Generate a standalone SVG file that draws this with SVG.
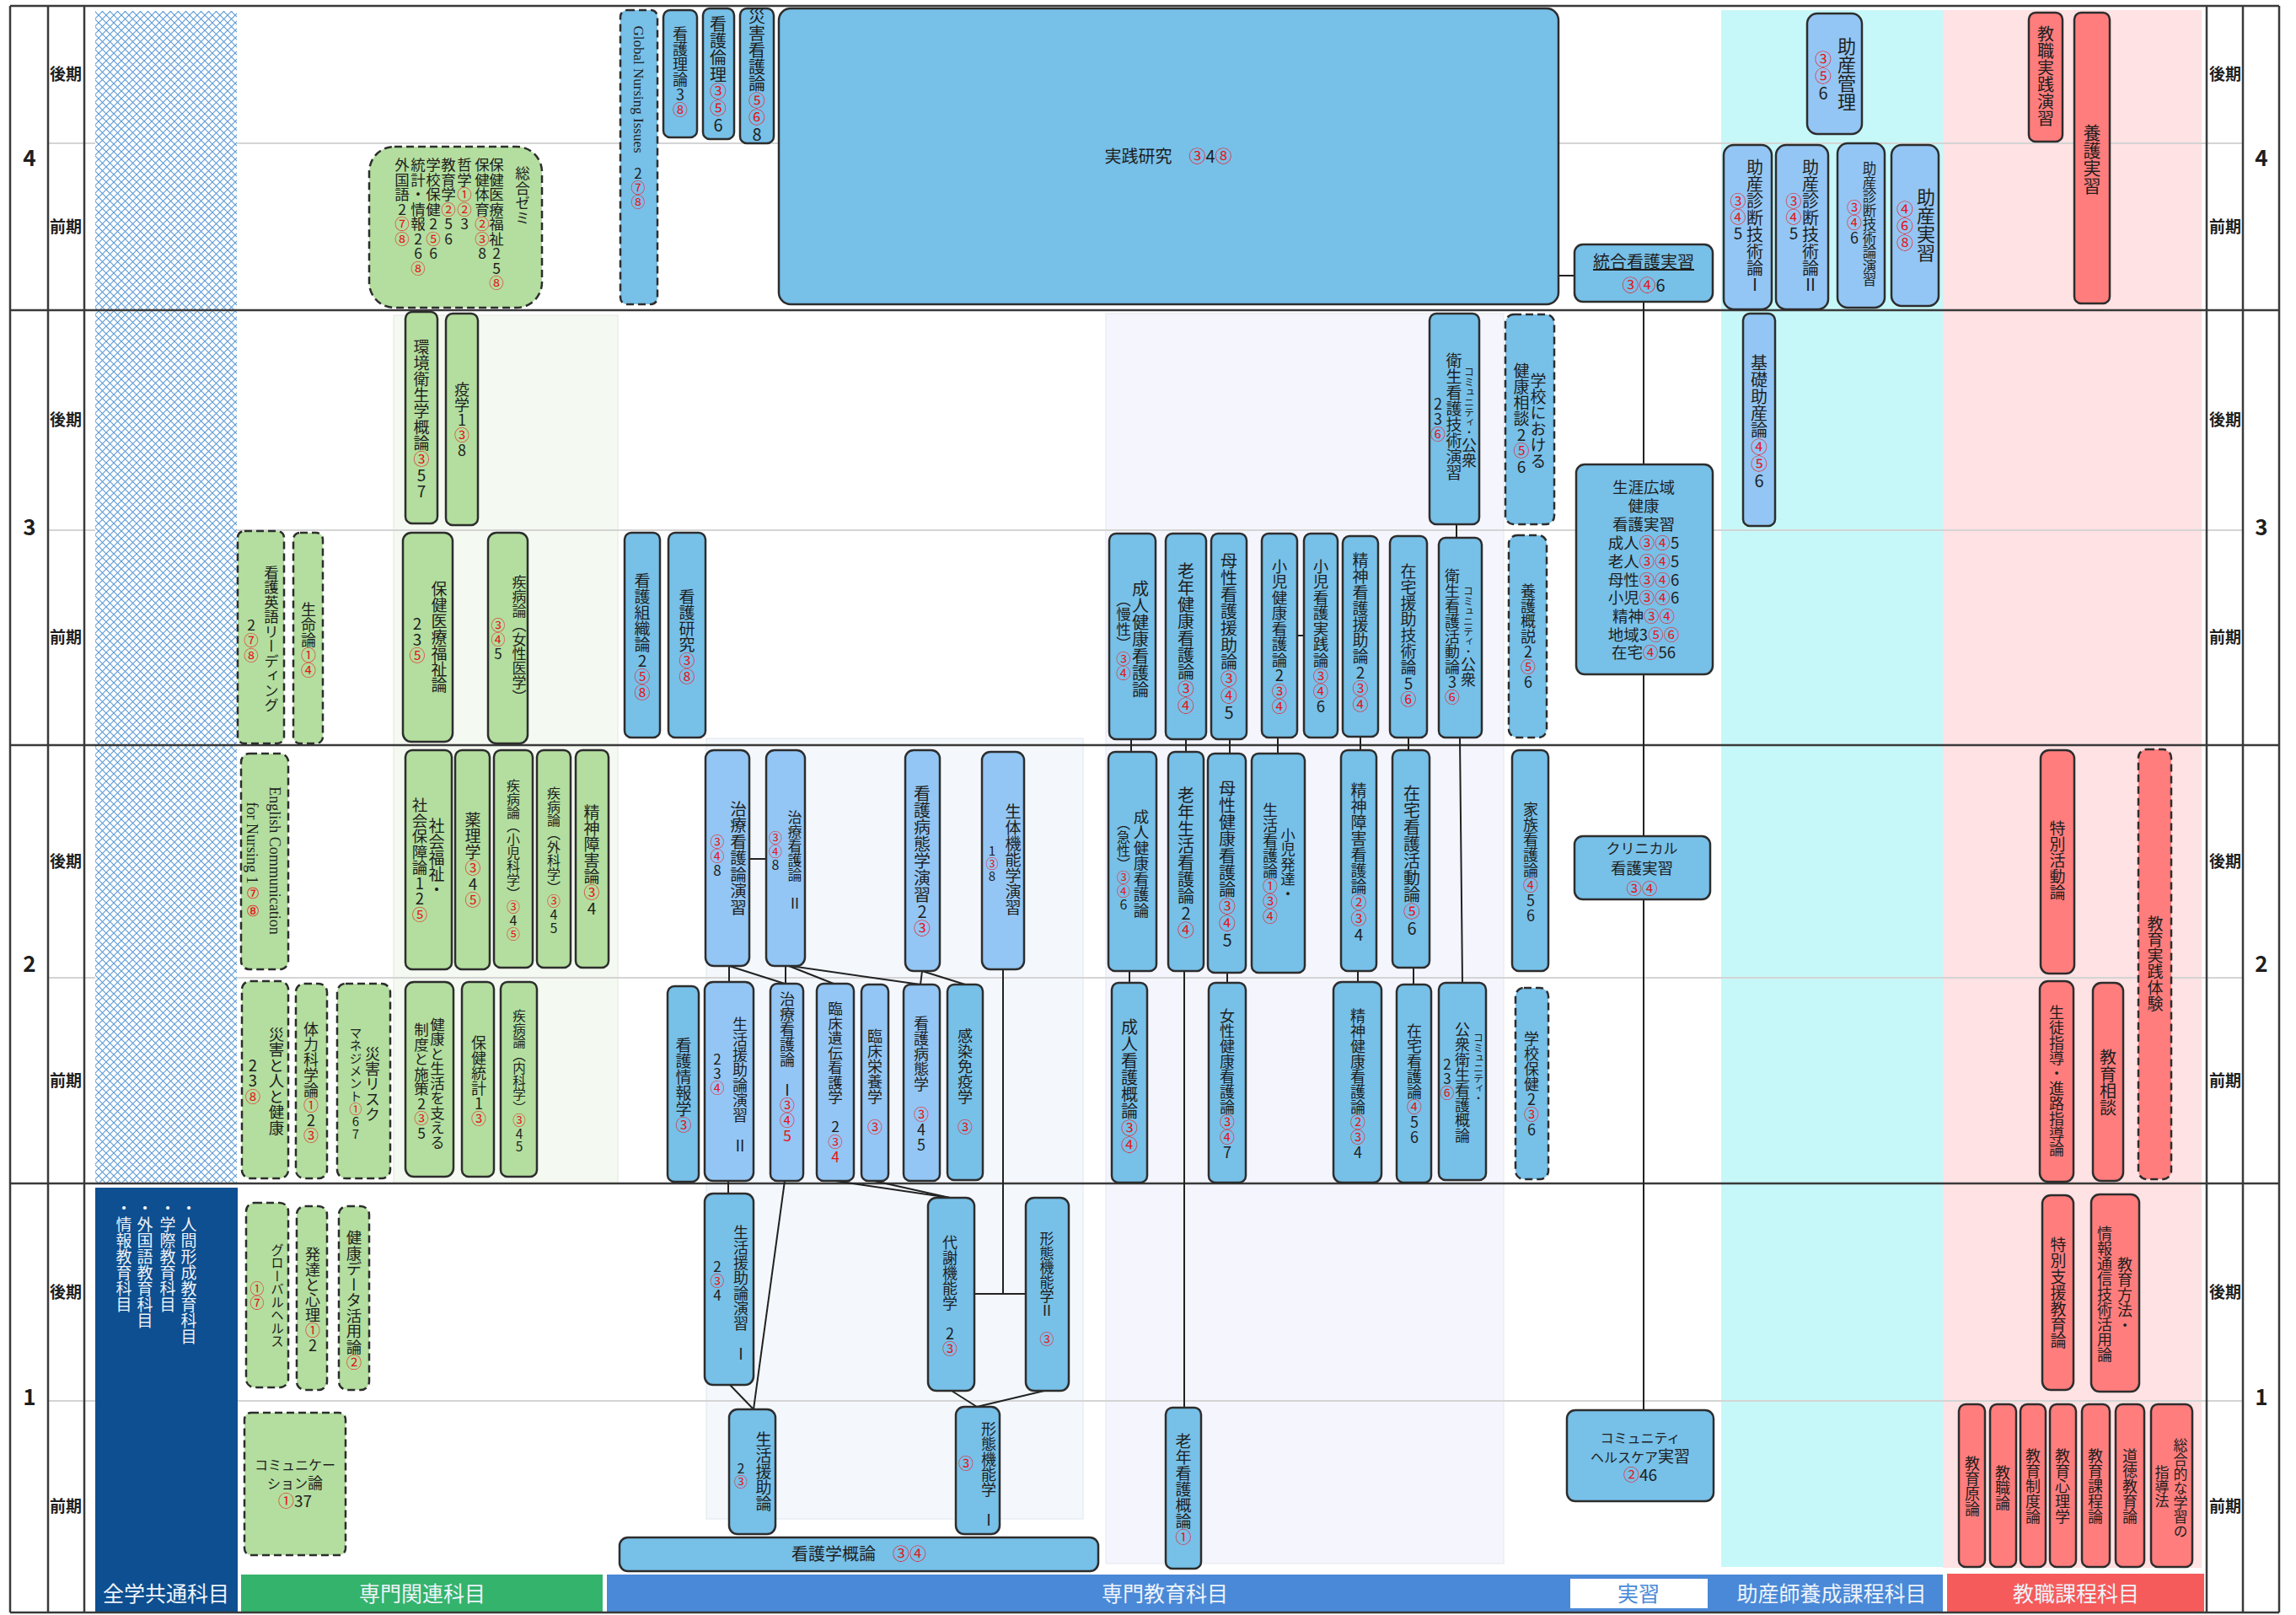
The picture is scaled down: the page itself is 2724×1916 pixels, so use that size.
<svg xmlns="http://www.w3.org/2000/svg" width="2724" height="1916" viewBox="0 0 2724 1916">
<defs>
<pattern id="hx" width="9" height="9" patternUnits="userSpaceOnUse">
<rect width="9" height="9" fill="#fff"/>
<path d="M0,0L9,9M9,0L0,9" stroke="#5c9ad6" stroke-width="1.1"/>
</pattern>
<style>
.n{stroke:#2d2d2d;stroke-width:2.5}
.g{fill:#b3de9f}
.b{fill:#77c0e8}
.l{fill:#93c6f4}
.p{fill:#ff7d7d}
.d{stroke-dasharray:9 5}
text{font-family:"Noto Sans CJK JP","Noto Sans CJK SC",sans-serif;fill:#1e1e1e}
.v{writing-mode:vertical-rl;text-orientation:upright;text-anchor:middle;font-size:19px}
.s{writing-mode:vertical-rl;text-orientation:mixed;text-anchor:middle;font-family:"Liberation Serif",serif;font-size:18px}
.h{text-anchor:middle;font-size:20px}
.hl{text-anchor:middle;font-size:18.5px}
.r{fill:#e5151b}
.lab{font-weight:700;font-size:19px;text-anchor:middle}
.yr{font-weight:700;font-size:26px;text-anchor:middle}
.bar{fill:#eef3fa;font-size:25px;text-anchor:middle}
.w{fill:#eef2f8}
.c line{stroke:#222;stroke-width:2}
</style>
</defs>
<rect width="2724" height="1916" fill="#fff"/>
<g id="background">
<rect x="467" y="374" width="266" height="1030" fill="#f4f9f1" stroke="#e3e8e0"/>
<rect x="1312" y="372" width="472" height="1483" fill="#f5f5fe" stroke="#e6e6f0"/>
<rect x="838" y="876" width="447" height="926" fill="#f4f8fd" stroke="#e0e6ee"/>
<rect x="2042" y="12" width="263" height="1847" fill="#c7f8f9"/>
<rect x="2305" y="12" width="307" height="1848" fill="#ffe2e3"/>
<g stroke="#d4d4d4" stroke-width="2">
<line x1="57" y1="170" x2="2661" y2="170"/>
<line x1="57" y1="629" x2="2661" y2="629"/>
<line x1="57" y1="1160" x2="2661" y2="1160"/>
<line x1="57" y1="1662" x2="2661" y2="1662"/>
</g>
<rect x="113" y="13" width="168" height="1391" fill="url(#hx)"/>
<rect x="113" y="1409" width="169" height="504" fill="#0d4f90"/>
<text class="v w" style="text-anchor:start" x="224" y="1424">・人間形成教育科目</text>
<text class="v w" style="text-anchor:start" x="199" y="1424">・学際教育科目</text>
<text class="v w" style="text-anchor:start" x="172" y="1424">・外国語教育科目</text>
<text class="v w" style="text-anchor:start" x="147" y="1424">・情報教育科目</text>
<rect x="286" y="1868" width="429" height="45" fill="#34b36c"/>
<rect x="720" y="1868" width="1585" height="45" fill="#4a89d7"/>
<rect x="1863" y="1873" width="163" height="35" fill="#fff"/>
<rect x="2310" y="1867" width="305" height="46" fill="#f65b5b"/>
<text class="bar" x="197" y="1900">全学共通科目</text>
<text class="bar" x="501" y="1900">専門関連科目</text>
<text class="bar" x="1382" y="1900">専門教育科目</text>
<text class="bar" x="1944" y="1900" style="fill:#4a89d7">実習</text>
<text class="bar" x="2173" y="1900">助産師養成課程科目</text>
<text class="bar" x="2463" y="1900">教職課程科目</text>
<g stroke="#3a3a3a" stroke-width="2.5">
<line x1="12" y1="7" x2="2704" y2="7"/>
<line x1="12" y1="368" x2="2704" y2="368"/>
<line x1="12" y1="884" x2="2704" y2="884"/>
<line x1="12" y1="1404" x2="2704" y2="1404"/>
<line x1="12" y1="1913" x2="2704" y2="1913"/>
<line x1="12" y1="7" x2="12" y2="1913"/>
<line x1="57" y1="7" x2="57" y2="1913"/>
<line x1="100" y1="7" x2="100" y2="1913"/>
<line x1="2618" y1="7" x2="2618" y2="1913"/>
<line x1="2661" y1="7" x2="2661" y2="1913"/>
<line x1="2704" y1="7" x2="2704" y2="1913"/>
</g>
<text class="yr" x="35" y="197">4</text>
<text class="yr" x="35" y="635">3</text>
<text class="yr" x="35" y="1153">2</text>
<text class="yr" x="35" y="1667">1</text>
<text class="yr" x="2683" y="197">4</text>
<text class="yr" x="2683" y="635">3</text>
<text class="yr" x="2683" y="1153">2</text>
<text class="yr" x="2683" y="1667">1</text>
<text class="lab" x="78" y="95">後期</text>
<text class="lab" x="78" y="276">前期</text>
<text class="lab" x="78" y="505">後期</text>
<text class="lab" x="78" y="763">前期</text>
<text class="lab" x="78" y="1029">後期</text>
<text class="lab" x="78" y="1289">前期</text>
<text class="lab" x="78" y="1540">後期</text>
<text class="lab" x="78" y="1794">前期</text>
<text class="lab" x="2640" y="95">後期</text>
<text class="lab" x="2640" y="276">前期</text>
<text class="lab" x="2640" y="505">後期</text>
<text class="lab" x="2640" y="763">前期</text>
<text class="lab" x="2640" y="1029">後期</text>
<text class="lab" x="2640" y="1289">前期</text>
<text class="lab" x="2640" y="1540">後期</text>
<text class="lab" x="2640" y="1794">前期</text>
</g>
<g id="connectors" class="c">
<line x1="1849" y1="327" x2="1868" y2="327"/>
<line x1="1950" y1="358" x2="1950" y2="1673"/>
<line x1="1539" y1="754" x2="1547" y2="754"/>
<line x1="1728" y1="622" x2="1728" y2="638"/>
<line x1="1342" y1="877" x2="1342" y2="892"/>
<line x1="1407" y1="877" x2="1407" y2="892"/>
<line x1="1459" y1="877" x2="1459" y2="894"/>
<line x1="1516" y1="875" x2="1516" y2="894"/>
<line x1="1614" y1="874" x2="1614" y2="890"/>
<line x1="1671" y1="875" x2="1671" y2="890"/>
<line x1="1732" y1="875" x2="1735" y2="1166"/>
<line x1="1340" y1="1152" x2="1340" y2="1166"/>
<line x1="1405" y1="1152" x2="1405" y2="1670"/>
<line x1="1456" y1="1154" x2="1456" y2="1166"/>
<line x1="1611" y1="1152" x2="1611" y2="1165"/>
<line x1="1677" y1="1148" x2="1677" y2="1168"/>
<line x1="889" y1="1019" x2="909" y2="1019"/>
<line x1="865" y1="1146" x2="865" y2="1165"/>
<line x1="865" y1="1146" x2="931" y2="1167"/>
<line x1="932" y1="1146" x2="932" y2="1167"/>
<line x1="936" y1="1146" x2="989" y2="1167"/>
<line x1="938" y1="1146" x2="1092" y2="1168"/>
<line x1="1094" y1="1152" x2="1092" y2="1168"/>
<line x1="1094" y1="1152" x2="1145" y2="1168"/>
<line x1="1190" y1="1150" x2="1190" y2="1535"/>
<line x1="1156" y1="1535" x2="1217" y2="1535"/>
<line x1="864" y1="1401" x2="864" y2="1416"/>
<line x1="931" y1="1401" x2="894" y2="1672"/>
<line x1="866" y1="1643" x2="894" y2="1672"/>
<line x1="991" y1="1401" x2="1127" y2="1421"/>
<line x1="1037" y1="1401" x2="1127" y2="1421"/>
<line x1="1129" y1="1650" x2="1159" y2="1669"/>
<line x1="1239" y1="1650" x2="1159" y2="1669"/>
</g>
<g id="nodes">
<g id="n01"><rect class="n g d" x="438" y="174" width="205" height="191" rx="30"/>
<text class="v" style="font-size:17.5px;text-anchor:start" x="620" y="197">総合ゼミ</text>
<text class="v" style="font-size:17.5px;text-anchor:start" x="589" y="187">保健医療福祉25<tspan class="r">⑧</tspan></text>
<text class="v" style="font-size:17.5px;text-anchor:start" x="572" y="187">保健体育<tspan class="r">②③</tspan>8</text>
<text class="v" style="font-size:17.5px;text-anchor:start" x="551" y="187">哲学<tspan class="r">①②</tspan>3</text>
<text class="v" style="font-size:17.5px;text-anchor:start" x="532" y="187">教育学<tspan class="r">②</tspan>56</text>
<text class="v" style="font-size:17.5px;text-anchor:start" x="514" y="187">学校保健2<tspan class="r">⑤</tspan>6</text>
<text class="v" style="font-size:17.5px;text-anchor:start" x="496" y="187">統計・情報26<tspan class="r">⑧</tspan></text>
<text class="v" style="font-size:17.5px;text-anchor:start" x="477" y="187">外国語2<tspan class="r">⑦⑧</tspan></text></g>
<g id="n02"><rect class="n b d" x="736" y="12" width="44" height="349" rx="8"/>
<text class="s" x="757" y="106" style="font-size:17px">Global Nursing Issues</text>
<text class="v" x="757" y="223" style="font-size:17px">2<tspan class="r">⑦⑧</tspan></text></g>
<g id="n03"><rect class="n b" x="787" y="12" width="40" height="151" rx="8"/><text class="v" x="807" y="85" style="font-size:18px">看護理論3<tspan class="r">⑧</tspan></text></g>
<g id="n04"><rect class="n b" x="834" y="10" width="37" height="155" rx="8"/><text class="v" x="852" y="88" style="font-size:20px">看護倫理<tspan class="r">③⑤</tspan>6</text></g>
<g id="n05"><rect class="n b" x="878" y="10" width="40" height="160" rx="8"/><text class="v" x="898" y="89" style="font-size:20px">災害看護論<tspan class="r">⑤⑥</tspan>8</text></g>
<g id="n06"><rect class="n b" x="924" y="10" width="925" height="351" rx="14"/><text class="h" x="1386" y="193">実践研究　<tspan class="r">③</tspan>4<tspan class="r">⑧</tspan></text></g>
<g id="n07"><rect class="n b" x="1868" y="290" width="164" height="68" rx="10"/><text class="h" x="1950" y="318" text-decoration="underline">統合看護実習</text><text class="h" x="1950" y="346"><tspan class="r">③④</tspan>6</text></g>
<g id="n08"><rect class="n l" x="2144" y="16" width="65" height="143" rx="12"/><text class="v" x="2191" y="88" style="font-size:22px">助産管理</text><text class="v" x="2163" y="90" style="font-size:20px"><tspan class="r">③⑤</tspan>6</text></g>
<g id="n09"><rect class="n l" x="2045" y="172" width="57" height="195" rx="12"/><text class="v" x="2082" y="268" style="font-size:20px">助産診断技術論Ⅰ</text><text class="v" x="2062" y="258"><tspan class="r">③④</tspan>5</text></g>
<g id="n10"><rect class="n l" x="2107" y="172" width="62" height="195" rx="12"/><text class="v" x="2148" y="268" style="font-size:20px">助産診断技術論Ⅱ</text><text class="v" x="2128" y="258"><tspan class="r">③④</tspan>5</text></g>
<g id="n11"><rect class="n l" x="2180" y="170" width="56" height="195" rx="12"/><text class="v" x="2218" y="266" style="font-size:16.5px">助産診断技術論演習</text><text class="v" x="2200" y="264" style="font-size:18px"><tspan class="r">③④</tspan>6</text></g>
<g id="n12"><rect class="n l" x="2244" y="172" width="56" height="191" rx="12"/><text class="v" x="2285" y="267" style="font-size:22px">助産実習</text><text class="v" x="2260" y="268" style="font-size:20px"><tspan class="r">④⑥⑧</tspan></text></g>
<g id="n13"><rect class="n p" x="2407" y="15" width="40" height="153" rx="8"/><text class="v" x="2427" y="90" style="font-size:20px">教職実践演習</text></g>
<g id="n14"><rect class="n p" x="2461" y="15" width="42" height="345" rx="8"/><text class="v" x="2482" y="189" style="font-size:21px">養護実習</text></g>
<g id="n15"><rect class="n g" x="481" y="370" width="38" height="251" rx="8"/><text class="v" x="500" y="497">環境衛生学概論<tspan class="r">③</tspan>57</text></g>
<g id="n16"><rect class="n g" x="529" y="372" width="38" height="251" rx="8"/><text class="v" x="548" y="498" style="font-size:18px">疫学1<tspan class="r">③</tspan>8</text></g>
<g id="n17"><rect class="n g d" x="282" y="630" width="55" height="252" rx="8"/><text class="v" x="322" y="758" style="font-size:17.5px">看護英語リーディング</text><text class="v" x="298" y="759" style="font-size:17.5px">2<tspan class="r">⑦⑧</tspan></text></g>
<g id="n18"><rect class="n g d" x="348" y="632" width="35" height="250" rx="8"/><text class="v" x="366" y="759" style="font-size:18px">生命論<tspan class="r">①④</tspan></text></g>
<g id="n19"><rect class="n g" x="478" y="632" width="59" height="248" rx="10"/><text class="v" x="521" y="756">保健医療福祉論</text><text class="v" x="495" y="759">23<tspan class="r">⑤</tspan></text></g>
<g id="n20"><rect class="n g" x="579" y="632" width="47" height="250" rx="10"/><text class="v" x="616" y="759" style="font-size:17px">疾病論（女性医学）</text><text class="v" x="591" y="759" style="font-size:17px"><tspan class="r">③④</tspan>5</text></g>
<g id="n21"><rect class="n b" x="741" y="632" width="42" height="243" rx="8"/><text class="v" x="762" y="755">看護組織論2<tspan class="r">⑤⑧</tspan></text></g>
<g id="n22"><rect class="n b" x="793" y="632" width="44" height="243" rx="8"/><text class="v" x="815" y="755">看護研究<tspan class="r">③⑧</tspan></text></g>
<g id="n23"><rect class="n b" x="1696" y="372" width="59" height="250" rx="8"/><text class="v" x="1743" y="495" style="font-size:18px"><tspan style="font-size:12px">コミュニティ・</tspan>公衆</text><text class="v" x="1725" y="494">衛生看護技術演習</text><text class="v" x="1706" y="497" style="font-size:18px">23<tspan class="r">⑥</tspan></text></g>
<g id="n24"><rect class="n b d" x="1786" y="373" width="58" height="249" rx="10"/><text class="v" x="1825" y="499">学校における</text><text class="v" x="1805" y="497">健康相談2<tspan class="r">⑤</tspan>6</text></g>
<g id="n25"><rect class="n b" x="1316" y="633" width="55" height="244" rx="8"/><text class="v" x="1353" y="758" style="font-size:20px">成人健康看護論</text><text class="v" x="1333" y="755" style="font-size:17.5px">（慢性）<tspan class="r">③④</tspan></text></g>
<g id="n26"><rect class="n b" x="1383" y="633" width="48" height="244" rx="8"/><text class="v" x="1407" y="757" style="font-size:20px">老年健康看護論<tspan class="r">③④</tspan></text></g>
<g id="n27"><rect class="n b" x="1437" y="633" width="42" height="244" rx="8"/><text class="v" x="1458" y="755" style="font-size:20px">母性看護援助論<tspan class="r">③④</tspan>5</text></g>
<g id="n28"><rect class="n b" x="1497" y="633" width="42" height="242" rx="8"/><text class="v" x="1518" y="755" style="font-size:18.5px">小児健康看護論2<tspan class="r">③④</tspan></text></g>
<g id="n29"><rect class="n b" x="1547" y="633" width="40" height="242" rx="8"/><text class="v" x="1567" y="755" style="font-size:18.5px">小児看護実践論<tspan class="r">③④</tspan>6</text></g>
<g id="n30"><rect class="n b" x="1593" y="636" width="42" height="238" rx="8"/><text class="v" x="1614" y="750">精神看護援助論2<tspan class="r">③④</tspan></text></g>
<g id="n31"><rect class="n b" x="1649" y="636" width="44" height="239" rx="8"/><text class="v" x="1671" y="754">在宅援助技術論5<tspan class="r">⑥</tspan></text></g>
<g id="n32"><rect class="n b" x="1707" y="638" width="51" height="237" rx="8"/><text class="v" x="1742" y="755" style="font-size:18px"><tspan style="font-size:12px">コミュニティ・</tspan>公衆</text><text class="v" x="1723" y="755" style="font-size:18px">衛生看護活動論3<tspan class="r">⑥</tspan></text></g>
<g id="n33"><rect class="n b d" x="1790" y="635" width="45" height="240" rx="10"/><text class="v" x="1813" y="755" style="font-size:18px">養護概説2<tspan class="r">⑤</tspan>6</text></g>
<g id="n34"><rect class="n b" x="1870" y="551" width="162" height="249" rx="10"/>
<text class="hl" x="1950" y="585">生涯広域</text><text class="hl" x="1950" y="607">健康</text><text class="hl" x="1950" y="629">看護実習</text>
<text class="hl" x="1950" y="651">成人<tspan class="r">③④</tspan>5</text><text class="hl" x="1950" y="673">老人<tspan class="r">③④</tspan>5</text>
<text class="hl" x="1950" y="695">母性<tspan class="r">③④</tspan>6</text><text class="hl" x="1950" y="716">小児<tspan class="r">③④</tspan>6</text>
<text class="hl" x="1950" y="738">精神<tspan class="r">③④</tspan></text><text class="hl" x="1950" y="760">地域3<tspan class="r">⑤⑥</tspan></text>
<text class="hl" x="1950" y="781">在宅<tspan class="r">④</tspan>56</text></g>
<g id="n35"><rect class="n l" x="2068" y="372" width="38" height="252" rx="8"/><text class="v" x="2087" y="500" style="font-size:20px">基礎助産論<tspan class="r">④⑤</tspan>6</text></g>
<g id="n36"><rect class="n g d" x="286" y="894" width="56" height="256" rx="10"/><text class="s" x="326" y="1021">English Communication</text><text class="s" x="299" y="1021">for Nursing 1<tspan class="r">⑦⑧</tspan></text></g>
<g id="n37"><rect class="n g" x="481" y="890" width="55" height="260" rx="8"/><text class="v" x="518" y="1018">社会福祉・</text><text class="v" x="498" y="1020" style="font-size:18.5px">社会保障論12<tspan class="r">⑤</tspan></text></g>
<g id="n38"><rect class="n g" x="540" y="890" width="41" height="260" rx="8"/><text class="v" x="561" y="1020">薬理学<tspan class="r">③</tspan>4<tspan class="r">⑤</tspan></text></g>
<g id="n39"><rect class="n g" x="586" y="890" width="46" height="258" rx="8"/><text class="v" x="609" y="1020" style="font-size:16px">疾病論（小児科学）<tspan class="r">③</tspan>4<tspan class="r">⑤</tspan></text></g>
<g id="n40"><rect class="n g" x="637" y="890" width="40" height="258" rx="8"/><text class="v" x="657" y="1021" style="font-size:16px">疾病論（外科学）<tspan class="r">③</tspan>45</text></g>
<g id="n41"><rect class="n g" x="683" y="890" width="39" height="258" rx="8"/><text class="v" x="702" y="1021">精神障害論<tspan class="r">③</tspan>4</text></g>
<g id="n42"><rect class="n g d" x="287" y="1164" width="55" height="234" rx="10"/><text class="v" x="328" y="1282" style="font-size:18.5px">災害と人と健康</text><text class="v" x="300" y="1282" style="font-size:18.5px">23<tspan class="r">⑧</tspan></text></g>
<g id="n43"><rect class="n g d" x="351" y="1167" width="37" height="231" rx="10"/><text class="v" x="369" y="1284" style="font-size:18px">体力科学論<tspan class="r">①</tspan>2<tspan class="r">③</tspan></text></g>
<g id="n44"><rect class="n g d" x="400" y="1167" width="63" height="231" rx="10"/><text class="v" x="442" y="1286" style="font-size:18px">災害リスク</text><text class="v" x="422" y="1285" style="font-size:15px">マネジメント<tspan class="r">①</tspan>67</text></g>
<g id="n45"><rect class="n g" x="481" y="1165" width="57" height="231" rx="10"/><text class="v" x="519" y="1285" style="font-size:17.5px">健康と生活を支える</text><text class="v" x="500" y="1283" style="font-size:17.5px">制度と施策2<tspan class="r">③</tspan>5</text></g>
<g id="n46"><rect class="n g" x="548" y="1165" width="38" height="231" rx="8"/><text class="v" x="568" y="1282" style="font-size:18px">保健統計1<tspan class="r">③</tspan></text></g>
<g id="n47"><rect class="n g" x="594" y="1165" width="43" height="231" rx="8"/><text class="v" x="616" y="1283" style="font-size:15.5px">疾病論（内科学）<tspan class="r">③</tspan>45</text></g>
<g id="n48"><rect class="n b" x="792" y="1170" width="37" height="232" rx="8"/><text class="v" x="811" y="1287">看護情報学<tspan class="r">③</tspan></text></g>
<g id="n49"><rect class="n l" x="837" y="890" width="52" height="256" rx="10"/><text class="v" x="876" y="1018" style="font-size:19.5px">治療看護論演習</text><text class="v" x="851" y="1016" style="font-size:17px"><tspan class="r">③④</tspan>8</text></g>
<g id="n50"><rect class="n l" x="909" y="890" width="46" height="256" rx="10"/><text class="v" x="943" y="1021" style="font-size:17px">治療看護論 Ⅱ</text><text class="v" x="920" y="1010" style="font-size:16px"><tspan class="r">③④</tspan>8</text></g>
<g id="n51"><rect class="n l" x="1074" y="890" width="41" height="262" rx="10"/><text class="v" x="1094" y="1021" style="font-size:20px">看護病態学演習2<tspan class="r">③</tspan></text></g>
<g id="n52"><rect class="n l" x="1165" y="892" width="50" height="258" rx="10"/><text class="v" x="1202" y="1020">生体機能学演習</text><text class="v" x="1177" y="1024" style="font-size:15px">1<tspan class="r">③</tspan>8</text></g>
<g id="n53"><rect class="n l" x="836" y="1165" width="58" height="236" rx="10"/><text class="v" x="878" y="1287" style="font-size:18px">生活援助論演習 Ⅱ</text><text class="v" x="851" y="1274" style="font-size:17px">23<tspan class="r">④</tspan></text></g>
<g id="n54"><rect class="n l" x="914" y="1167" width="39" height="234" rx="8"/><text class="v" x="934" y="1266" style="font-size:18px">治療看護論 Ⅰ<tspan class="r">③④5</tspan></text></g>
<g id="n55"><rect class="n l" x="969" y="1167" width="44" height="234" rx="8"/><text class="v" x="991" y="1284" style="font-size:17.5px">臨床遺伝看護学 2<tspan class="r">③4</tspan></text></g>
<g id="n56"><rect class="n l" x="1022" y="1168" width="32" height="233" rx="8"/><text class="v" x="1038" y="1283" style="font-size:18px">臨床栄養学 <tspan class="r">③</tspan></text></g>
<g id="n57"><rect class="n l" x="1072" y="1168" width="43" height="233" rx="8"/><text class="v" x="1093" y="1286" style="font-size:18px">看護病態学 <tspan class="r">③</tspan>45</text></g>
<g id="n58"><rect class="n b" x="1124" y="1168" width="42" height="232" rx="8"/><text class="v" x="1145" y="1283" style="font-size:18px">感染免疫学 <tspan class="r">③</tspan></text></g>
<g id="n59"><rect class="n b" x="1315" y="892" width="57" height="260" rx="8"/><text class="v" x="1354" y="1024" style="font-size:18.5px">成人健康看護論</text><text class="v" x="1333" y="1025" style="font-size:16px">（急性）<tspan class="r">③④</tspan>6</text></g>
<g id="n60"><rect class="n b" x="1386" y="892" width="42" height="260" rx="8"/><text class="v" x="1407" y="1023" style="font-size:20px">老年生活看護論2<tspan class="r">④</tspan></text></g>
<g id="n61"><rect class="n b" x="1433" y="894" width="45" height="260" rx="8"/><text class="v" x="1456" y="1025" style="font-size:20px">母性健康看護論<tspan class="r">③④</tspan>5</text></g>
<g id="n62"><rect class="n b" x="1485" y="894" width="63" height="260" rx="8"/><text class="v" x="1528" y="1025" style="font-size:17.5px">小児発達・</text><text class="v" x="1507" y="1024" style="font-size:18px">生活看護論<tspan class="r">①③④</tspan></text></g>
<g id="n63"><rect class="n b" x="1591" y="890" width="42" height="262" rx="8"/><text class="v" x="1612" y="1023">精神障害看護論<tspan class="r">②③</tspan>4</text></g>
<g id="n64"><rect class="n b" x="1652" y="890" width="44" height="258" rx="8"/><text class="v" x="1675" y="1021" style="font-size:20px">在宅看護活動論<tspan class="r">⑤</tspan>6</text></g>
<g id="n65"><rect class="n b" x="1794" y="890" width="43" height="262" rx="8"/><text class="v" x="1816" y="1023" style="font-size:18px">家族看護論<tspan class="r">④</tspan>56</text></g>
<g id="n66"><rect class="n b" x="1319" y="1166" width="42" height="237" rx="8"/><text class="v" x="1340" y="1288" style="font-size:20px">成人看護概論<tspan class="r">③④</tspan></text></g>
<g id="n67"><rect class="n b" x="1434" y="1166" width="44" height="237" rx="8"/><text class="v" x="1456" y="1286" style="font-size:18px">女性健康看護論<tspan class="r">③④</tspan>7</text></g>
<g id="n68"><rect class="n b" x="1582" y="1165" width="57" height="238" rx="10"/><text class="v" x="1611" y="1286" style="font-size:18px">精神健康看護論<tspan class="r">②③</tspan>4</text></g>
<g id="n69"><rect class="n b" x="1657" y="1168" width="41" height="235" rx="8"/><text class="v" x="1678" y="1286" style="font-size:18px">在宅看護論<tspan class="r">④</tspan>56</text></g>
<g id="n70"><rect class="n b" x="1707" y="1166" width="56" height="234" rx="8"/><text class="v" x="1754" y="1267" style="font-size:12px">コミュニティ・</text><text class="v" x="1735" y="1284" style="font-size:18px">公衆衛生看護概論</text><text class="v" x="1717" y="1280" style="font-size:17px">23<tspan class="r">⑥</tspan></text></g>
<g id="n71"><rect class="n b d" x="1798" y="1172" width="39" height="227" rx="10"/><text class="v" x="1817" y="1286" style="font-size:18px">学校保健2<tspan class="r">③</tspan>6</text></g>
<g id="n72"><rect class="n b" x="1868" y="992" width="161" height="75" rx="10"/><text class="hl" x="1948" y="1013" style="font-size:17px">クリニカル</text><text class="hl" x="1948" y="1037">看護実習</text><text class="hl" x="1948" y="1061"><tspan class="r">③④</tspan></text></g>
<g id="n73"><rect class="n p" x="2421" y="890" width="40" height="265" rx="10"/><text class="v" x="2441" y="1021">特別活動論</text></g>
<g id="n74"><rect class="n p" x="2420" y="1164" width="40" height="238" rx="10"/><text class="v" x="2440" y="1282" style="font-size:18px">生徒指導・進路指導論</text></g>
<g id="n75"><rect class="n p" x="2483" y="1166" width="36" height="235" rx="10"/><text class="v" x="2501" y="1284" style="font-size:20px">教育相談</text></g>
<g id="n76"><rect class="n p d" x="2537" y="889" width="39" height="510" rx="10"/><text class="v" x="2557" y="1143">教育実践体験</text></g>
<g id="n77"><rect class="n g d" x="292" y="1427" width="50" height="219" rx="10"/><text class="v" x="329" y="1537" style="font-size:15.5px">グローバルヘルス</text><text class="v" x="305" y="1537" style="font-size:17px"><tspan class="r">①⑦</tspan></text></g>
<g id="n78"><rect class="n g d" x="352" y="1431" width="36" height="218" rx="10"/><text class="v" x="371" y="1542" style="font-size:18px">発達と心理<tspan class="r">①</tspan>2</text></g>
<g id="n79"><rect class="n g d" x="402" y="1431" width="36" height="218" rx="10"/><text class="v" x="420" y="1542" style="font-size:18.5px">健康データ活用論<tspan class="r">②</tspan></text></g>
<g id="n80"><rect class="n g d" x="290" y="1676" width="120" height="169" rx="8"/><text class="h" x="350" y="1744" style="font-size:16px">コミュニケー</text><text class="h" x="350" y="1766" style="font-size:18px"><tspan style="font-size:16px">ション</tspan>論</text><text class="h" x="350" y="1788" style="font-size:19px"><tspan class="r">①</tspan>37</text></g>
<g id="n81"><rect class="n b" x="836" y="1416" width="58" height="227" rx="10"/><text class="v" x="879" y="1534" style="font-size:18px">生活援助論演習 Ⅰ</text><text class="v" x="851" y="1520" style="font-size:17px">2<tspan class="r">③</tspan>4</text></g>
<g id="n82"><rect class="n b" x="1101" y="1421" width="55" height="229" rx="10"/><text class="v" x="1127" y="1537" style="font-size:18px">代謝機能学　2<tspan class="r">③</tspan></text></g>
<g id="n83"><rect class="n b" x="1217" y="1421" width="51" height="229" rx="10"/><text class="v" x="1242" y="1529" style="font-size:17px">形態機能学Ⅱ　<tspan class="r">③</tspan></text></g>
<g id="n84"><rect class="n b" x="865" y="1672" width="55" height="148" rx="10"/><text class="v" x="906" y="1746">生活援助論</text><text class="v" x="879" y="1750" style="font-size:16px">2<tspan class="r">③</tspan></text></g>
<g id="n85"><rect class="n b" x="1134" y="1669" width="52" height="151" rx="10"/><text class="v" x="1173" y="1749" style="font-size:18px">形態機能学 Ⅰ</text><text class="v" x="1146" y="1736" style="font-size:18px"><tspan class="r">③</tspan></text></g>
<g id="n86"><rect class="n b" x="735" y="1824" width="568" height="40" rx="10"/><text class="h" x="1019" y="1851">看護学概論　<tspan class="r">③④</tspan></text></g>
<g id="n87"><rect class="n b" x="1383" y="1670" width="42" height="191" rx="8"/><text class="v" x="1404" y="1767">老年看護概論<tspan class="r">①</tspan></text></g>
<g id="n88"><rect class="n b" x="1859" y="1673" width="174" height="108" rx="10"/><text class="h" x="1946" y="1712" style="font-size:16px">コミュニティ</text><text class="h" x="1946" y="1735" style="font-size:19px"><tspan style="font-size:16px">ヘルスケア</tspan>実習</text><text class="h" x="1946" y="1757" style="font-size:19px"><tspan class="r">②</tspan>46</text></g>
<g id="n89"><rect class="n p" x="2423" y="1418" width="37" height="231" rx="10"/><text class="v" x="2442" y="1534">特別支援教育論</text></g>
<g id="n90"><rect class="n p" x="2481" y="1417" width="57" height="234" rx="10"/><text class="v" x="2521" y="1536" style="font-size:18px">教育方法・</text><text class="v" x="2497" y="1535" style="font-size:18px">情報通信技術活用論</text></g>
<g id="n91"><rect class="n p" x="2324" y="1666" width="31" height="193" rx="8"/><text class="v" x="2340" y="1763" style="font-size:18px">教育原論</text></g>
<g id="n92"><rect class="n p" x="2361" y="1666" width="31" height="193" rx="8"/><text class="v" x="2376" y="1765" style="font-size:18px">教職論</text></g>
<g id="n93"><rect class="n p" x="2397" y="1666" width="30" height="193" rx="8"/><text class="v" x="2412" y="1763" style="font-size:18px">教育制度論</text></g>
<g id="n94"><rect class="n p" x="2432" y="1666" width="31" height="193" rx="8"/><text class="v" x="2447" y="1763" style="font-size:18px">教育心理学</text></g>
<g id="n95"><rect class="n p" x="2470" y="1666" width="33" height="193" rx="8"/><text class="v" x="2486" y="1763" style="font-size:18px">教育課程論</text></g>
<g id="n96"><rect class="n p" x="2510" y="1666" width="34" height="193" rx="8"/><text class="v" x="2527" y="1763" style="font-size:18px">道徳教育論</text></g>
<g id="n97"><rect class="n p" x="2552" y="1666" width="49" height="193" rx="8"/><text class="v" x="2587" y="1766" style="font-size:17px">総合的な学習の</text><text class="v" x="2565" y="1764" style="font-size:17px">指導法</text></g>
</g>
</svg>
